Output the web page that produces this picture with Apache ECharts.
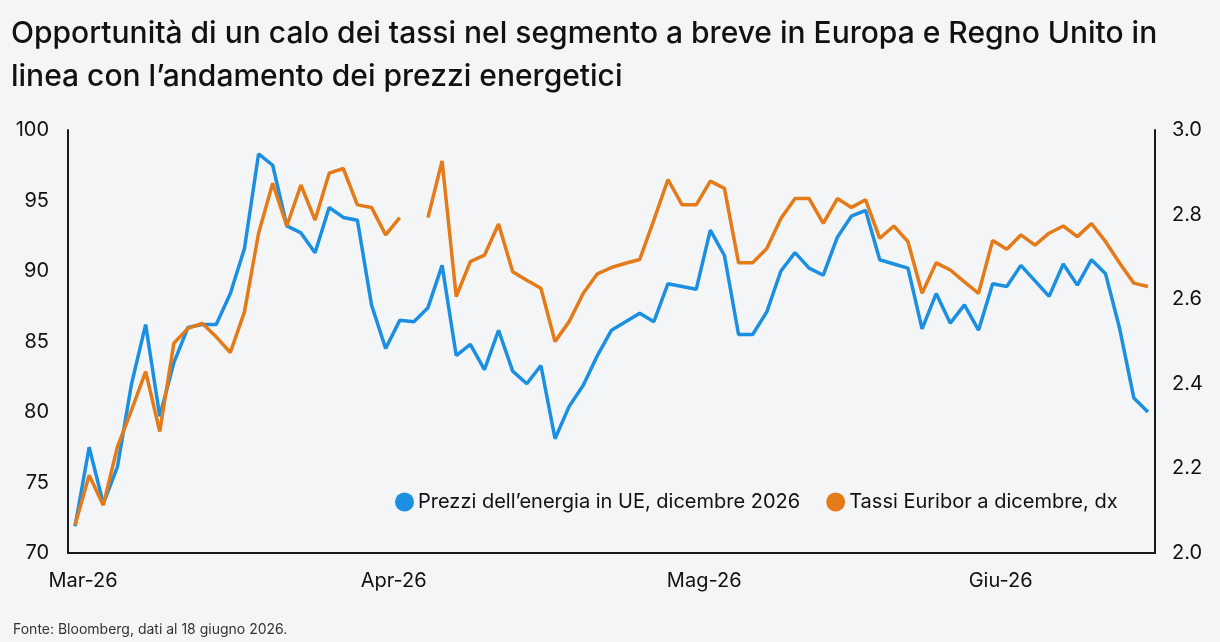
<!DOCTYPE html>
<html>
<head>
<meta charset="utf-8">
<script src="https://cdn.jsdelivr.net/npm/echarts@6/dist/echarts.min.js"></script>
<style>
  html, body { margin: 0; padding: 0; background: #f4f5f7; }
  #chart { width: 1220px; height: 642px; }
</style>
</head>
<body>
<div id="chart"></div>
<script>
// Categories: business days, 2 March 2026 - 16 June 2026
const dates = [
  "2026-03-02","2026-03-03","2026-03-04","2026-03-05","2026-03-06",
  "2026-03-09","2026-03-10","2026-03-11","2026-03-12","2026-03-13",
  "2026-03-16","2026-03-17","2026-03-18","2026-03-19","2026-03-20",
  "2026-03-23","2026-03-24","2026-03-25","2026-03-26","2026-03-27",
  "2026-03-30","2026-03-31",
  "2026-04-01","2026-04-02","2026-04-03",
  "2026-04-06","2026-04-07","2026-04-08","2026-04-09","2026-04-10",
  "2026-04-13","2026-04-14","2026-04-15","2026-04-16","2026-04-17",
  "2026-04-20","2026-04-21","2026-04-22","2026-04-23","2026-04-24",
  "2026-04-27","2026-04-28","2026-04-29","2026-04-30",
  "2026-05-01",
  "2026-05-04","2026-05-05","2026-05-06","2026-05-07","2026-05-08",
  "2026-05-11","2026-05-12","2026-05-13","2026-05-14","2026-05-15",
  "2026-05-18","2026-05-19","2026-05-20","2026-05-21","2026-05-22",
  "2026-05-25","2026-05-26","2026-05-27","2026-05-28","2026-05-29",
  "2026-06-01","2026-06-02","2026-06-03","2026-06-04","2026-06-05",
  "2026-06-08","2026-06-09","2026-06-10","2026-06-11","2026-06-12",
  "2026-06-15","2026-06-16"
];

// Month tick labels (month key -> label)
const monthKeys = ["2026-03", "2026-04", "2026-05", "2026-06"];
const monthLabels = ["Mar-26", "Apr-26", "Mag-26", "Giu-26"];

// Prezzi dell'energia in UE, dicembre 2026 (left axis)
const energia = [
  71.9, 77.5, 73.5, 76.1, 82.0, 86.2, 79.7, 83.5, 86.0, 86.2,
  86.2, 88.4, 91.6, 98.3, 97.5, 93.2, 92.7, 91.3, 94.5, 93.8,
  93.6, 87.6, 84.5, 86.5, 86.4, 87.4, 90.4, 84.0, 84.8, 83.0,
  85.8, 82.9, 82.0, 83.3, 78.1, 80.4, 81.9, 84.0, 85.8, 86.4,
  87.0, 86.4, 89.1, 88.9, 88.7, 92.9, 91.1, 85.5, 85.5, 87.1,
  90.0, 91.3, 90.2, 89.7, 92.4, 93.9, 94.3, 90.8, 90.5, 90.2,
  85.9, 88.4, 86.3, 87.6, 85.8, 89.1, 88.9, 90.4, 89.3, 88.2,
  90.5, 89.0, 90.8, 89.8, 85.9, 81.0, 80.0
];

// Tassi Euribor a dicembre (right axis)
const euribor = [
  2.066, 2.184, 2.113, 2.251, 2.338, 2.429, 2.287, 2.496, 2.531, 2.543,
  2.511, 2.474, 2.570, 2.756, 2.874, 2.773, 2.870, 2.787, 2.898, 2.909,
  2.823, 2.817, 2.752, 2.793, null,  2.793, 2.927, 2.606, 2.689, 2.704,
  2.778, 2.665, 2.645, 2.626, 2.500, 2.547, 2.614, 2.660, 2.675, 2.685,
  2.694, 2.787, 2.883, 2.823, 2.823, 2.879, 2.862, 2.686, 2.686, 2.720,
  2.791, 2.838, 2.838, 2.779, 2.838, 2.817, 2.835, 2.744, 2.773, 2.736,
  2.614, 2.686, 2.669, 2.641, 2.614, 2.739, 2.718, 2.752, 2.728, 2.756,
  2.773, 2.748, 2.779, 2.736, 2.685, 2.638, 2.630
];

const seriesNames = ["Prezzi dell\u2019energia in UE, dicembre 2026", "Tassi Euribor a dicembre, dx"];
const titleText = "Opportunit\u00e0 di un calo dei tassi nel segmento a breve in Europa e Regno Unito in\nlinea con l\u2019andamento dei prezzi energetici";
const sourceText = "Fonte: Bloomberg, dati al 18 giugno 2026.";

const FONT = "Inter, 'Noto Sans', sans-serif";
const BLUE = "#1b8fe2";
const ORANGE = "#e47a18";
const AXIS = "#1a1a1a";

function isMonthStart(idx) {
  const key = dates[idx].slice(0, 7);
  return idx === dates.findIndex(d => d.slice(0, 7) === key);
}

const chart = echarts.init(document.getElementById('chart'), null, { renderer: 'canvas' });
chart.setOption({
  backgroundColor: '#f4f5f7',
  animation: false,
  textStyle: { fontFamily: FONT },
  title: [
    {
      text: titleText,
      left: 6, top: 7,
      textStyle: { fontFamily: FONT, fontSize: 30, fontWeight: 500, color: '#111', lineHeight: 43 }
    },
    {
      text: sourceText,
      left: 8, top: 618,
      textStyle: { fontFamily: FONT, fontSize: 14, fontWeight: 'normal', color: '#333' }
    }
  ],
  legend: {
    left: 390, top: 487,
    icon: 'circle',
    itemWidth: 19, itemHeight: 19,
    itemGap: 26,
    textStyle: { fontFamily: FONT, fontSize: 20, color: '#111', padding: [0, 0, 0, -1] },
    data: seriesNames
  },
  grid: { left: 68, right: 65, top: 130, bottom: 89, containLabel: false },
  xAxis: {
    type: 'category',
    data: dates,
    boundaryGap: true,
    axisLine: { show: true, lineStyle: { color: AXIS, width: 2 } },
    axisTick: { show: false },
    splitLine: { show: false },
    axisLabel: {
      interval: (idx) => isMonthStart(idx),
      formatter: (val) => monthLabels[monthKeys.indexOf(val.slice(0, 7))],
      fontFamily: FONT, fontSize: 20, color: '#111', margin: 18,
      padding: [0, 0, 0, 16]
    }
  },
  yAxis: [
    {
      type: 'value', min: 70, max: 100, interval: 5, position: 'left',
      axisLine: { show: true, lineStyle: { color: AXIS, width: 2 } },
      axisTick: { show: false },
      splitLine: { show: false },
      axisLabel: { fontFamily: FONT, fontSize: 20, color: '#111', margin: 19 }
    },
    {
      type: 'value', min: 2.0, max: 3.0, interval: 0.2, position: 'right',
      axisLine: { show: true, lineStyle: { color: AXIS, width: 2 } },
      axisTick: { show: false },
      splitLine: { show: false },
      axisLabel: { fontFamily: FONT, fontSize: 20, color: '#111', margin: 17,
        formatter: (v) => v.toFixed(1) }
    }
  ],
  series: [
    {
      name: seriesNames[0], type: 'line', yAxisIndex: 0, data: energia,
      showSymbol: false, symbol: 'circle',
      lineStyle: { color: BLUE, width: 3.5 }, itemStyle: { color: BLUE }
    },
    {
      name: seriesNames[1], type: 'line', yAxisIndex: 1, data: euribor,
      showSymbol: false, symbol: 'circle', connectNulls: false,
      lineStyle: { color: ORANGE, width: 3.5 }, itemStyle: { color: ORANGE }
    }
  ]
});
</script>
</body>
</html>
